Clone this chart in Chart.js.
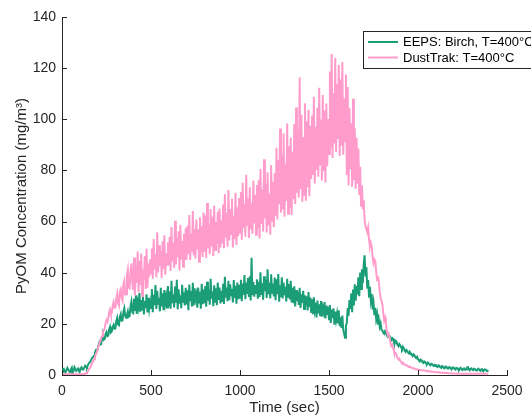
<!DOCTYPE html>
<html>
<head>
<meta charset="utf-8">
<script src="https://cdn.jsdelivr.net/npm/chart.js@4.4.0/dist/chart.umd.min.js"></script>
<style>
  html, body { margin: 0; padding: 0; background: #fff; }
</style>
</head>
<body>
<canvas id="pyomChart" width="531" height="417"></canvas>
<script>
var sampleStep = 5;

var eepsBirch = [
  1.2,2.1,2.4,1.5,1.0,1.9,2.8,2.2,1.5,1.1,2.2,2.9,0.9,1.6,3.1,2.4,1.6,2.0,2.5,1.7,
  1.4,2.6,3.0,2.2,2.1,2.9,3.6,3.1,2.9,3.8,4.5,4.9,5.2,6.1,6.8,7.1,7.5,8.8,9.6,9.2,
  10.2,11.6,12.8,11.9,12.1,14.2,15.3,13.8,14.2,16.1,16.8,15.2,15.4,17.9,18.9,16.7,17.1,18.8,19.6,18.1,
  18.2,21.1,22.4,19.8,19.5,22.7,23.8,21.2,21.3,24.6,26.1,23.2,22.4,23.5,24.9,22.8,23.1,26.9,28.7,24.5,
  24.2,29.8,25.1,31.2,23.9,28.4,26.4,32.1,24.8,29.3,25.6,30.5,23.7,28.9,26.2,31.6,24.5,30.2,25.9,28.7,
  26.2,33.6,24.6,31.4,27.3,35.2,25.8,32.9,27.5,30.1,24.9,34.1,26.8,31.9,25.3,33.2,28.1,30.6,26.4,34.8,
  26.8,32.7,25.9,36.8,28.1,31.6,26.4,34.6,28.3,37.2,25.7,33.5,27.9,31.2,26.1,35.3,28.6,32.4,27.2,34.1,
  27.6,33.1,25.3,35.4,28.9,32.8,26.8,36.1,27.2,33.9,29.8,31.5,26.3,34.2,28.4,32.6,25.9,35.7,27.7,33.4,
  28.1,34.8,26.7,36.5,29.1,33.4,27.5,37.6,29.9,32.6,26.9,35.1,28.6,33.9,27.3,36.2,29.4,34.2,28.0,32.9,
  28.6,35.7,27.8,38.4,30.2,34.2,28.9,36.8,29.3,35.5,31.2,33.6,28.4,37.1,30.1,34.9,27.9,36.2,29.6,35.3,
  30.2,37.2,28.9,35.8,31.4,39.1,29.6,36.2,31.7,37.9,30.5,38.6,29.1,45.8,31.2,36.3,30.6,35.2,32.1,37.4,
  29.8,36.4,30.5,40.2,31.3,35.9,29.4,38.6,32.8,37.3,30.1,41.3,31.6,36.1,29.9,39.4,32.2,35.8,30.7,38.1,
  29.2,37.4,31.6,39.5,28.7,35.1,30.4,38.2,29.9,36.1,31.2,34.5,28.8,37.6,30.6,35.6,29.5,36.8,28.4,34.1,
  28.1,34.7,26.8,33.2,28.9,32.5,27.4,34.1,26.2,31.6,28.3,32.9,25.8,31.2,27.1,30.8,25.2,32.4,26.6,30.3,
  24.3,29.7,23.8,30.4,25.6,28.2,22.5,29.1,24.1,27.6,23.4,28.9,22.8,26.3,24.6,28.5,22.1,27.2,23.5,26.8,
  21.8,27.4,20.4,25.6,22.3,26.1,19.7,24.8,21.5,23.9,20.2,25.3,19.1,22.6,18.4,23.2,17.8,16.1,14.6,19.3,
  20.3,26.2,23.1,29.3,25.8,31.9,24.6,33.4,27.2,35.5,29.1,34.8,31.5,38.2,30.8,40.1,33.6,41.4,35.9,43.2,
  46.8,38.5,42.2,33.8,37.1,30.6,34.5,29.2,31.7,25.6,28.2,23.4,26.3,21.9,23.8,19.7,21.6,18.9,20.2,17.6,
  17.4,16.5,16.1,17.2,16.8,15.4,14.9,15.6,15.3,14.1,13.6,14.5,14.2,12.8,12.4,13.3,12.9,11.8,11.3,12.1,
  11.6,10.8,10.2,11.1,10.5,9.6,9.1,9.8,9.4,8.7,8.3,8.9,8.5,7.8,7.4,8.1,7.7,7.0,6.6,7.1,
  6.2,5.7,5.4,6.0,5.8,5.0,4.7,5.3,5.1,4.5,4.3,4.9,4.6,4.0,3.8,4.4,4.2,3.7,3.5,4.0,
  3.9,3.3,3.1,3.8,3.6,3.0,2.8,3.5,3.4,2.7,2.6,3.3,3.2,2.6,2.5,3.1,3.0,2.5,2.4,2.9,
  2.9,2.3,2.1,2.8,2.7,2.2,2.0,2.6,2.8,2.1,1.9,2.5,2.6,2.0,2.2,2.9,3.1,2.3,1.8,2.4,
  2.6,2.1,1.9,2.5,2.4,1.8,1.7,2.3,2.5,1.9,1.6,2.2,2.3,1.7,1.8,2.2,2.1,1.6,1.5,1.9
];

var dustTrak = [
  0.3,0.2,0.3,0.4,0.2,0.3,0.3,0.2,0.4,0.3,0.2,0.3,0.3,0.4,0.2,0.3,0.3,0.2,0.3,0.3,
  0.3,0.2,0.4,0.3,0.3,0.5,0.4,0.7,0.9,1.4,2.1,2.6,3.0,3.9,4.8,5.3,6.2,7.0,8.1,8.9,
  9.8,11.2,12.5,13.1,14.6,15.2,16.9,17.4,18.2,20.3,21.5,20.8,22.1,24.6,25.6,23.9,24.2,27.1,28.5,26.3,
  26.4,29.9,31.8,28.1,27.2,32.6,33.5,30.2,29.1,35.4,36.8,31.5,31.6,38.9,41.2,34.3,33.9,40.6,43.7,36.2,
  33.2,45.9,31.1,42.8,36.1,48.3,32.5,44.7,35.2,47.5,30.9,41.3,37.2,46.5,33.6,49.4,34.1,43.6,38.3,45.2,
  39.8,49.5,37.6,53.2,41.3,47.1,38.2,55.8,40.1,50.7,42.6,48.4,37.9,52.3,41.5,54.6,39.2,47.6,43.1,51.9,
  42.8,54.1,40.7,57.9,44.5,51.6,41.9,60.3,43.2,53.6,46.1,56.2,40.9,58.7,45.2,52.4,42.3,55.1,44.9,57.4,
  45.1,58.4,47.3,62.6,44.9,55.3,48.2,64.1,46.7,57.2,45.6,60.8,49.1,56.9,44.3,61.7,47.8,58.2,46.2,63.5,
  48.1,62.4,45.8,67.3,49.5,58.6,47.2,64.9,50.3,61.9,46.5,66.2,48.9,59.7,51.2,63.8,47.6,65.1,49.9,60.4,
  51.4,66.7,49.6,70.8,53.8,63.5,50.2,72.4,52.6,64.9,55.1,68.9,49.9,62.3,53.2,71.3,50.8,65.6,54.3,69.2,
  55.7,71.6,52.9,75.2,57.5,66.8,54.1,78.3,58.3,69.1,53.6,73.4,56.9,67.2,55.2,76.1,59.4,70.5,54.8,74.3,
  57.4,76.2,53.4,80.6,59.1,72.5,56.1,84.4,61.2,74.8,55.7,79.3,58.6,70.9,54.9,82.1,60.3,75.6,57.8,78.9,
  62.3,88.9,60.8,84.1,66.8,96.4,63.5,86.1,64.7,94.5,61.9,82.7,68.2,98.3,63.1,89.6,65.4,92.8,62.6,87.3,
  68.7,98.2,66.9,104.6,71.3,95.8,69.4,116.4,72.6,101.8,67.8,93.1,70.5,106.3,68.1,99.2,73.4,103.7,69.9,97.5,
  76.7,101.5,78.2,108.8,74.9,97.1,80.2,104.6,77.5,112.3,82.4,99.8,76.1,109.5,79.8,103.4,75.3,106.2,81.6,100.1,
  86.4,118.7,88.8,125.6,84.9,110.3,90.5,124.1,87.2,113.8,92.3,121.2,85.6,115.6,89.7,122.4,86.1,108.2,91.4,117.5,
  78.2,112.6,74.1,104.3,80.5,98.4,73.6,108.1,76.2,96.4,72.8,92.8,74.9,88.6,70.4,81.4,66.2,74.2,64.8,68.3,
  60.5,58.3,57.2,55.9,57.6,52.8,50.3,51.7,50.2,46.1,43.8,45.2,44.5,40.3,37.1,38.6,36.4,32.5,30.2,29.1,
  27.6,24.2,21.3,22.4,20.1,17.3,15.6,16.2,14.8,12.6,11.4,11.9,10.6,9.1,8.2,8.6,7.8,6.8,6.1,6.4,
  5.6,5.1,4.7,4.9,4.4,4.0,3.8,3.9,3.6,3.3,3.1,3.2,3.0,2.8,2.6,2.7,2.5,2.3,2.2,2.3,
  2.1,2.0,1.9,2.0,1.9,1.8,1.7,1.8,1.7,1.6,1.5,1.6,1.5,1.4,1.3,1.4,1.3,1.3,1.2,1.2,
  1.1,1.1,1.1,1.0,1.0,1.0,0.9,0.9,0.9,0.9,0.8,0.8,0.8,0.8,0.7,0.7,0.7,0.7,0.6,0.6,
  0.6,0.6,0.6,0.6,0.5,0.5,0.5,0.5,0.5,0.5,0.5,0.5,0.5,0.5,0.5,0.5,0.5,0.5,0.5,0.5,
  0.5,0.5,0.5,0.5,0.5,0.5,0.5,0.5,0.5,0.5,0.5,0.5,0.5,0.5,0.5,0.5,0.5,0.5,0.5,0.5
];

var xTicks = [0, 500, 1000, 1500, 2000, 2500];
var yTicks = [0, 20, 40, 60, 80, 100, 120, 140];

function toPoints(values) {
  return values.map(function(v, i) { return { x: i * sampleStep, y: v }; });
}

var fontFamily = '"Liberation Sans", Arial, Helvetica, sans-serif';
var axisColor = '#262626';

// MATLAB style ticks pointing into the axes
var inwardTicks = {
  id: 'inwardTicks',
  afterDraw: function(chart) {
    var ctx = chart.ctx, xs = chart.scales.x, ys = chart.scales.y;
    var area = chart.chartArea;
    ctx.save();
    ctx.strokeStyle = axisColor;
    ctx.lineWidth = 1;
    ctx.beginPath();
    xTicks.forEach(function(t) {
      var px = Math.round(xs.getPixelForValue(t)) + 0.5;
      ctx.moveTo(px, area.bottom);
      ctx.lineTo(px, area.bottom - 5);
    });
    yTicks.forEach(function(t) {
      var py = Math.round(ys.getPixelForValue(t)) + 0.5;
      ctx.moveTo(area.left, py);
      ctx.lineTo(area.left + 5, py);
    });
    ctx.stroke();
    ctx.restore();
  }
};

var legendBox = {
  id: 'legendBox',
  afterDraw: function(chart) {
    var ctx = chart.ctx;
    ctx.save();
    ctx.fillStyle = '#fff';
    ctx.fillRect(363, 31, 190, 37);
    ctx.strokeStyle = axisColor;
    ctx.lineWidth = 1;
    ctx.strokeRect(363.5, 31.5, 190, 37);
    chart.data.datasets.forEach(function(ds, i) {
      var y = 42 + i * 15.5;
      ctx.strokeStyle = ds.borderColor;
      ctx.lineWidth = 2;
      ctx.beginPath();
      ctx.moveTo(368, y);
      ctx.lineTo(398, y);
      ctx.stroke();
      ctx.fillStyle = '#000';
      ctx.font = '13px ' + fontFamily;
      ctx.textBaseline = 'middle';
      ctx.fillText(ds.label, 403, y + 0.5);
    });
    ctx.restore();
  }
};

var specs = {
  type: 'line',
  data: {
    datasets: [{
      label: 'EEPS: Birch, T=400\u00b0C',
      data: toPoints(eepsBirch),
      borderColor: '#1b9e77',
      borderWidth: 2,
      pointRadius: 0,
      tension: 0,
      order: 1
    }, {
      label: 'DustTrak: T=400\u00b0C',
      data: toPoints(dustTrak),
      borderColor: '#ff9ccb',
      borderWidth: 2,
      pointRadius: 0,
      tension: 0,
      order: 0
    }]
  },
  options: {
    responsive: false,
    animation: false,
    layout: { padding: { top: 17, right: 24, left: 0, bottom: 0 } },
    plugins: {
      legend: { display: false },
      tooltip: { enabled: false }
    },
    scales: {
      x: {
        type: 'linear',
        min: 0,
        max: 2500,
        afterFit: function(s) { s.height = 42; },
        afterBuildTicks: function(s) { s.ticks = xTicks.map(function(v) { return { value: v }; }); },
        grid: { display: false, drawTicks: false },
        border: { display: true, color: axisColor, width: 1 },
        ticks: {
          color: axisColor,
          padding: 8,
          maxRotation: 0,
          font: { family: fontFamily, size: 14 },
          callback: function(v) { return String(v); }
        },
        title: {
          display: true,
          text: 'Time (sec)',
          color: axisColor,
          padding: { top: 0, bottom: 0 },
          font: { family: fontFamily, size: 15 }
        }
      },
      y: {
        min: 0,
        max: 140,
        afterFit: function(s) { s.width = 62; },
        afterBuildTicks: function(s) { s.ticks = yTicks.map(function(v) { return { value: v }; }); },
        grid: { display: false, drawTicks: false },
        border: { display: true, color: axisColor, width: 1 },
        ticks: { color: axisColor, padding: 6, font: { family: fontFamily, size: 14 } },
        title: {
          display: true,
          text: 'PyOM Concentration (mg/m\u00b3)',
          color: axisColor,
          padding: { top: 13, bottom: 0 },
          font: { family: fontFamily, size: 15 }
        }
      }
    }
  },
  plugins: [inwardTicks, legendBox]
};

var pyomChart = new Chart(document.getElementById('pyomChart'), specs);
</script>
</body>
</html>
